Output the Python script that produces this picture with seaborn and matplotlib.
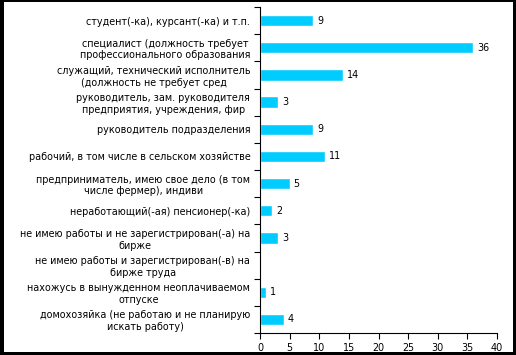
import numpy as np
import pandas as pd
import matplotlib
matplotlib.use('Agg')
import matplotlib.pyplot as plt
import seaborn as sns
from matplotlib.patches import Rectangle

categories = [
    "студент(-ка), курсант(-ка) и т.п.",
    "специалист (должность требует\nпрофессионального образования",
    "служащий, технический исполнитель\n(должность не требует сред",
    "руководитель, зам. руководителя\nпредприятия, учреждения, фир",
    "руководитель подразделения",
    "рабочий, в том числе в сельском хозяйстве",
    "предприниматель, имею свое дело (в том\nчисле фермер), индиви",
    "неработающий(-ая) пенсионер(-ка)",
    "не имею работы и не зарегистрирован(-а) на\nбирже",
    "не имею работы и зарегистрирован(-в) на\nбирже труда",
    "нахожусь в вынужденном неоплачиваемом\nотпуске",
    "домохозяйка (не работаю и не планирую\nискать работу)",
]
values = [9, 36, 14, 3, 9, 11, 5, 2, 3, 0.2, 1, 4]
value_labels = ["9", "36", "14", "3", "9", "11", "5", "2", "3", "", "1", "4"]
x_ticks = [0, 5, 10, 15, 20, 25, 30, 35, 40]

df = pd.DataFrame({"cat": categories, "val": values})

sns.set_theme(style="white")
plt.rcParams['font.family'] = ['DejaVu Sans']
plt.rcParams['text.color'] = 'black'
plt.rcParams['xtick.color'] = 'black'
plt.rcParams['ytick.color'] = 'black'

fs = 6.9

fig = plt.figure(figsize=(5.16, 3.55), dpi=100, facecolor='black')
# white panel inside the black frame
fig.add_artist(Rectangle((4 / 516, 3 / 355), 509 / 516, 350 / 355,
                         transform=fig.transFigure, facecolor='white',
                         edgecolor='none', zorder=-5))
ax = fig.add_axes([260 / 516, 1 - 333 / 355, 237 / 516, 326 / 355])
ax.set_facecolor('none')

sns.barplot(data=df, y="cat", x="val", color="#00CCFF", saturation=1,
            width=0.42, orient="h", ax=ax)

n = len(categories)
ax.set_xlim(0, 40)
ax.set_ylim(n - 0.5, -0.5)
ax.set_xticks(x_ticks)
ax.set_xticklabels([str(t) for t in x_ticks], fontsize=fs)
ax.set_yticks(np.arange(n))
ax.set_yticklabels(categories, fontsize=fs, multialignment='center')
ax.set_yticks(np.arange(-0.5, n), minor=True)
ax.tick_params(axis='y', which='major', length=0, pad=7)
ax.tick_params(axis='y', which='minor', length=4, width=0.8, color='black', direction='out', left=True)
ax.tick_params(axis='x', length=4, width=0.8, color='black', direction='out', bottom=True, pad=3)
ax.set_xlabel("")
ax.set_ylabel("")

for s in ['top', 'right']:
    ax.spines[s].set_visible(False)
for s in ['left', 'bottom']:
    ax.spines[s].set_color('black')
    ax.spines[s].set_linewidth(0.8)

for i, (v, lab) in enumerate(zip(values, value_labels)):
    if lab:
        ax.text(v + 0.7, i, lab, va='center', ha='left', fontsize=fs, color='black')

fig.savefig("out.png", dpi=100, facecolor='black')
